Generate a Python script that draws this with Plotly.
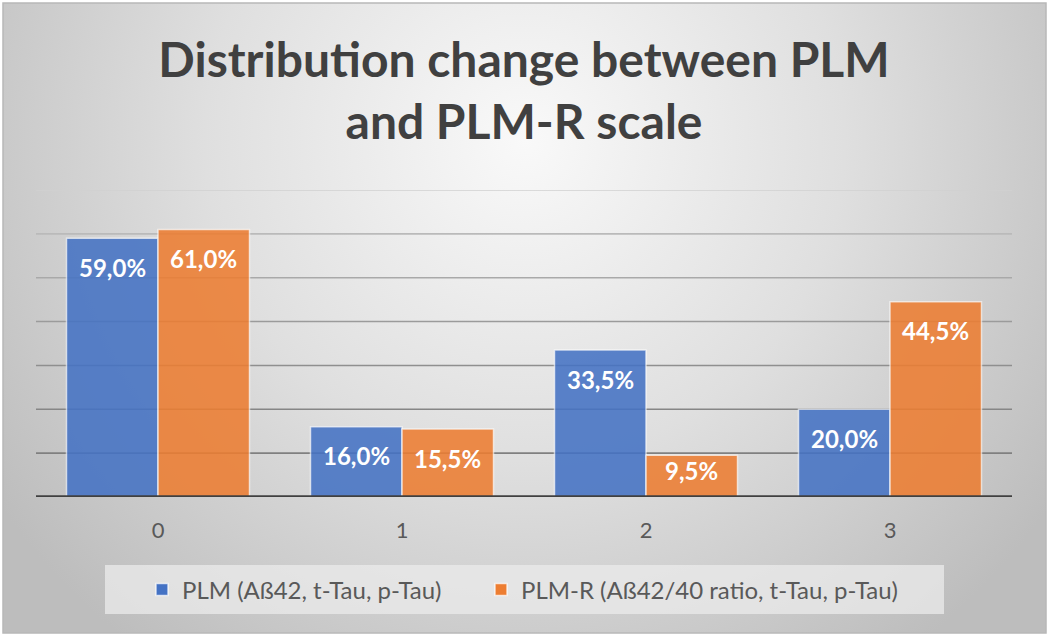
import base64
import plotly.graph_objects as go

categories = ["0", "1", "2", "3"]
plm_values = [59.0, 16.0, 33.5, 20.0]
plmr_values = [61.0, 15.5, 9.5, 44.5]
series_names = ["PLM (Aß42, t-Tau, p-Tau)", "PLM-R (Aß42/40 ratio, t-Tau, p-Tau)"]
title_text = "Distribution change between PLM<br>and PLM-R scale"
y_max = 70
grid_values = [10, 20, 30, 40, 50, 60, 70]
grid_colors = ["#808080", "#868686", "#8f8f8f", "#9b9b9b", "#a9a9a9", "#bababa", "#d0d0d0"]

W, H = 1049, 636
ML, MR, MT, MB = 36, 37, 190, 139
PW, PH = W - ML - MR, H - MT - MB
BARGAP = 0.25
FONT = "Lato"

blue = "#4472C4"
orange = "#ED7D31"

svg = (
    f"<svg xmlns='http://www.w3.org/2000/svg' width='{W}' height='{H}'>"
    "<defs><radialGradient id='g' gradientUnits='userSpaceOnUse' cx='525' cy='140' r='640'>"
    "<stop offset='0' stop-color='#f9f9f9'/><stop offset='0.5' stop-color='#dfdfdf'/>"
    "<stop offset='1' stop-color='#bdbdbd'/></radialGradient></defs>"
    f"<rect x='0' y='0' width='{W}' height='{H}' fill='#ffffff'/>"
    f"<rect x='3' y='3' width='{W-6}' height='{H-6}' fill='url(#g)' stroke='#b8b8b8' stroke-width='1.5'/>"
    "</svg>"
)
bg_src = "data:image/svg+xml;base64," + base64.b64encode(svg.encode()).decode()

fig = go.Figure()
for name, vals, col, lg in [(series_names[0], plm_values, blue, "legend"),
                            (series_names[1], plmr_values, orange, "legend2")]:
    fig.add_trace(go.Bar(
        x=categories, y=vals, name=name, legend=lg,
        marker=dict(color=col, opacity=0.87, line=dict(color="rgba(255,255,255,0.7)", width=1.5)),
        hoverinfo="x+y",
    ))

px_per_unit = PH / y_max
half = (1 - BARGAP) / 4
annotations = []
for s, vals in enumerate([plm_values, plmr_values]):
    off = -half if s == 0 else half
    for i, v in enumerate(vals):
        h_px = v * px_per_unit
        shift = -min(29, h_px - 27)
        annotations.append(dict(
            x=i + off, y=v, xref="x", yref="y", text=f"{v:.1f}%".replace(".", ","),
            showarrow=False, yshift=shift, yanchor="middle",
            font=dict(family=FONT, size=24, color="white", weight="bold"),
        ))

shapes = [
    dict(type="rect", xref="paper", yref="paper",
         x0=(105 - ML) / PW, x1=(944 - ML) / PW,
         y0=(H - MB - 614) / PH, y1=(H - MB - 565) / PH,
         fillcolor="rgba(235,235,235,0.75)", line=dict(width=0), layer="below"),
]
for gv, gc in zip(grid_values, grid_colors):
    shapes.append(dict(type="line", xref="paper", yref="y", x0=0, x1=1, y0=gv, y1=gv,
                       line=dict(color=gc, width=1.6), layer="below"))
shapes.append(dict(type="line", xref="paper", yref="y", x0=0, x1=1, y0=0, y1=0,
                   line=dict(color="#404040", width=3.5), layer="above"))

legend_common = dict(orientation="h", xanchor="left", yanchor="middle",
                     y=(H - MB - 590) / PH, bgcolor="rgba(0,0,0,0)", itemwidth=30,
                     font=dict(family=FONT, size=24, color="#595959"))

fig.update_layout(
    width=W, height=H,
    margin=dict(l=ML, r=MR, t=MT, b=MB),
    paper_bgcolor="white", plot_bgcolor="rgba(0,0,0,0)",
    barmode="group", bargap=BARGAP, bargroupgap=0,
    title=dict(text=title_text, x=0.5, xref="paper", xanchor="center",
               y=1 - 77 / H, yref="container", yanchor="middle",
               font=dict(family=FONT, size=48, color="#404040", weight="bold")),
    xaxis=dict(showgrid=False, zeroline=False, showline=False,
               ticks="outside", ticklen=14, tickcolor="rgba(0,0,0,0)",
               tickfont=dict(family=FONT, size=22, color="#595959")),
    yaxis=dict(range=[0, y_max], showgrid=False, zeroline=False, showticklabels=False, showline=False),
    legend=dict(x=(142 - ML) / PW, **legend_common),
    legend2=dict(x=(481 - ML) / PW, **legend_common),
    images=[dict(source=bg_src, xref="paper", yref="paper",
                 x=-ML / PW, y=1 + MT / PH, sizex=W / PW, sizey=H / PH,
                 xanchor="left", yanchor="top", sizing="stretch", layer="below")],
    shapes=shapes,
    annotations=annotations,
    showlegend=True,
)

fig.write_html("out.html", config={"displayModeBar": False},
               post_script="document.body.style.margin='0';document.body.style.overflow='hidden';")
